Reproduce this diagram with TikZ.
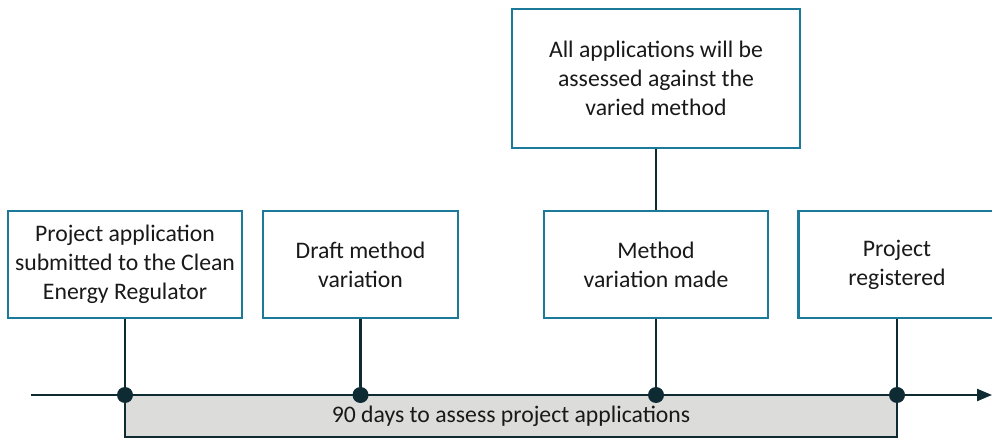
\documentclass[tikz,border=0pt]{standalone}
\usepackage{fontspec}
\setmainfont{Carlito}
\usepackage{tikz}
\usetikzlibrary{arrows.meta,positioning,calc}
\definecolor{boxline}{HTML}{1B7A9A}
\definecolor{axisline}{HTML}{0E2A32}
\definecolor{barfill}{HTML}{DCDCDA}

\begin{document}
\begin{tikzpicture}[
  stage/.style={rectangle, draw=boxline, line width=1.4pt, fill=white, align=center,
    inner sep=2pt, font=\fontsize{13.5}{16.5}\selectfont, text=black!90},
  dot/.style={circle, fill=axisline, inner sep=0pt, minimum size=0.32cm},
  link/.style={draw=axisline, line width=1.3pt},
  period/.style={rectangle, draw=axisline, line width=1.3pt, fill=barfill,
    font=\fontsize{13.5}{16.5}\selectfont, text=black!90}
]
  \useasboundingbox (0,0) rectangle (19.84,8.78);
  \clip (0,0) rectangle (19.84,8.78);
  \node[stage, minimum width=4.68cm, minimum height=2.14cm] (submit) at ( 2.50, 3.49) {Project application\\submitted to the Clean\\Energy Regulator};
  \node[stage, minimum width=3.90cm, minimum height=2.14cm] (draft)  at ( 7.21, 3.49) {Draft method\\variation};
  \node[stage, minimum width=4.48cm, minimum height=2.14cm] (made)   at (13.12, 3.49) {Method\\variation made};
  \node[stage, minimum width=3.94cm, minimum height=2.14cm] (reg)    at (17.94, 3.49) {Project\\registered};
  \node[stage, minimum width=5.76cm, minimum height=2.78cm] (assess) at (13.12, 7.21) {All applications will be\\assessed against the\\varied method};
  \node[period, minimum width=15.44cm, minimum height=0.84cm] (days) at (10.22, 0.46) {90 days to assess project applications};
  \coordinate (start) at (0.62, 0.88);
  \coordinate (end)   at (19.84, 0.88);
  \draw[link, -{Triangle[length=0.3cm, width=0.24cm]}] (start) -- (end);
  \node[dot] (d1) at ( 2.50, 0.88) {};
  \node[dot] (d2) at ( 7.21, 0.88) {};
  \node[dot] (d3) at (13.12, 0.88) {};
  \node[dot] (d4) at (17.94, 0.88) {};
  \draw[link] (submit) -- (d1);
  \draw[link] (draft) -- (d2);
  \draw[link] (made) -- (d3);
  \draw[link] (reg) -- (d4);
  \draw[link] (assess) -- (made);
\end{tikzpicture}
\end{document}
